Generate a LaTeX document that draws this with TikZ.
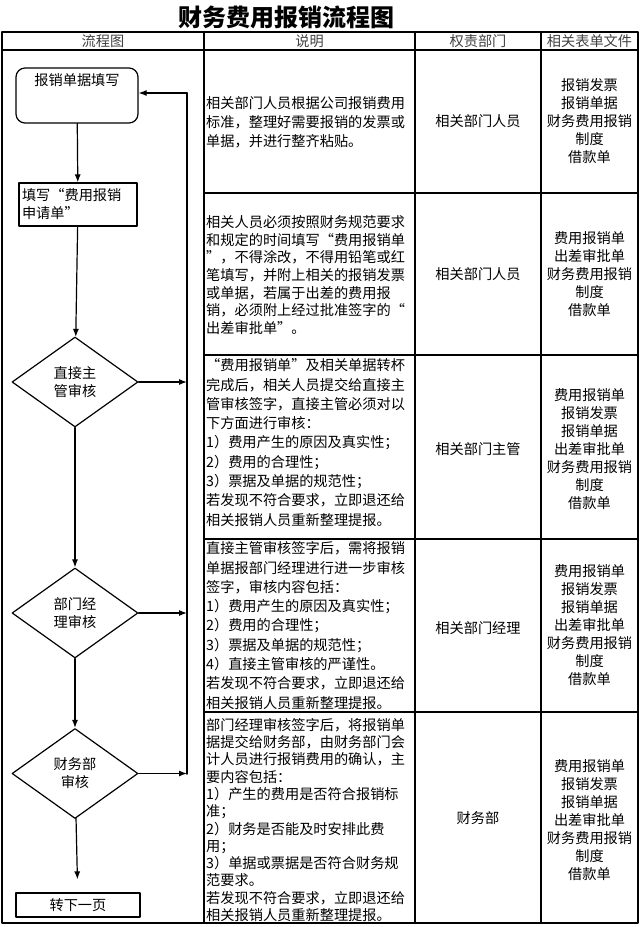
\documentclass[tikz,border=0pt]{standalone}
\usepackage{fontspec}
\setmainfont{Noto Sans CJK SC}
\usetikzlibrary{shapes.geometric,arrows.meta}

\begin{document}
\begin{tikzpicture}[x=1pt, y=-1pt, line cap=round, line join=round,
    grid/.style={line width=1.1pt},
    txt/.style={font=\fontsize{14.2}{18}\selectfont},
    head/.style={txt, text=black!75},
    box/.style={txt, draw, line width=1.2pt, inner sep=2pt},
    startbox/.style={box, rounded corners=9pt, minimum width=122pt, minimum height=55pt, align=center},
    formbox/.style={box, minimum width=118pt, minimum height=43pt, text width=112pt, align=left},
    nextbox/.style={box, minimum width=124pt, minimum height=24pt},
    check/.style={txt, draw, diamond, line width=1.2pt, minimum width=126pt, minimum height=90pt, inner sep=0pt, align=center},
    flow/.style={line width=1.2pt, -{Latex[length=8pt, width=6pt]}},
    back/.style={line width=1.8pt},
    desc/.style={anchor=west, align=left, inner sep=0pt, font=\fontsize{14.2}{#1}\selectfont},
    desc/.default=18,
    dept/.style={txt, align=center, inner sep=0pt},
    docs/.style={txt, align=center, inner sep=0pt}]
  \useasboundingbox (0,0) rectangle (640,927);
  % 标题
  \node[font=\fontsize{24}{28}\selectfont\bfseries] (title) at (286,17) {财务费用报销流程图};
  % 表格
  \draw[grid] (2,32) rectangle (638,923);
  \draw[grid] (2,50) -- (638,50);
  \draw[grid] (204,32) -- (204,923);
  \draw[grid] (415,32) -- (415,923);
  \draw[grid] (541,32) -- (541,923);
  \draw[grid] (204,193) -- (638,193);
  \draw[grid] (204,355) -- (638,355);
  \draw[grid] (204,539) -- (638,539);
  \draw[grid] (204,712) -- (638,712);
  \node[head] (hflow) at (103,41) {流程图};
  \node[head] (hdesc) at (309.5,41) {说明};
  \node[head] (hdept) at (478,41) {权责部门};
  \node[head] (hdocs) at (589.5,41) {相关表单文件};
  % 流程图
  \node[startbox] (fill) at (77,95.5) {报销单据填写\\[8pt]\strut};
  \node[formbox] (form) at (78,204.5) {填写“费用报销\\申请单”};
  \node[check] (chief) at (75,382) {直接主\\管审核};
  \node[check] (manager) at (75,613) {部门经\\理审核};
  \node[check] (finance) at (75,773.5) {财务部\\审核};
  \node[nextbox] (next) at (78,905) {转下一页};
  \coordinate (ret) at (187,93);
  \coordinate (retb) at (187,774);
  \draw[flow] (fill) -- (form);
  \draw[flow] (form) -- (chief);
  \draw[flow] (chief) -- (manager);
  \draw[flow] (manager) -- (finance);
  \draw[flow, shorten >=13pt] (finance) -- (next);
  \draw[flow] (chief.east) -- (chief.east -| ret);
  \draw[flow] (manager.east) -- (manager.east -| ret);
  \draw[flow] (finance.east) -- (finance.east -| ret);
  \draw[back] (retb) -- (ret);
  \draw[flow] (ret) -- (fill.east |- ret);
  % 说明
  \node[desc=19] (desc1) at (206,122) {相关部门人员根据公司报销费用\\标准，整理好需要报销的发票或\\单据，并进行整齐粘贴。};
  \node[desc=17.7] (desc2) at (206,275) {相关人员必须按照财务规范要求\\和规定的时间填写“费用报销单\\”，不得涂改，不得用铅笔或红\\笔填写，并附上相关的报销发票\\或单据，若属于出差的费用报\\销，必须附上经过批准签字的“\\出差审批单”。};
  \node[desc=19.3] (desc3) at (206,442.5) {“费用报销单”及相关单据转杯\\完成后，相关人员提交给直接主\\管审核签字，直接主管必须对以\\下方面进行审核：\\1）费用产生的原因及真实性；\\2）费用的合理性；\\3）票据及单据的规范性；\\若发现不符合要求，立即退还给\\相关报销人员重新整理提报。};
  \node[desc=19.3] (desc4) at (206,625.5) {直接主管审核签字后，需将报销\\单据报部门经理进行进一步审核\\签字，审核内容包括：\\1）费用产生的原因及真实性；\\2）费用的合理性；\\3）票据及单据的规范性；\\4）直接主管审核的严谨性。\\若发现不符合要求，立即退还给\\相关报销人员重新整理提报。};
  \node[desc=17.3] (desc5) at (206,820) {部门经理审核签字后，将报销单\\据提交给财务部，由财务部门会\\计人员进行报销费用的确认，主\\要内容包括：\\1）产生的费用是否符合报销标\\准；\\2）财务是否能及时安排此费\\用；\\3）单据或票据是否符合财务规\\范要求。\\若发现不符合要求，立即退还给\\相关报销人员重新整理提报。};
  % 权责部门
  \node[dept] (dept1) at (478,121.5) {相关部门人员};
  \node[dept] (dept2) at (478,274) {相关部门人员};
  \node[dept] (dept3) at (478,449) {相关部门主管};
  \node[dept] (dept4) at (478,628) {相关部门经理};
  \node[dept] (dept5) at (478,818) {财务部};
  % 相关表单文件
  \node[docs] (docs1) at (589.5,121.5) {报销发票\\报销单据\\财务费用报销\\制度\\借款单};
  \node[docs] (docs2) at (589.5,274) {费用报销单\\出差审批单\\财务费用报销\\制度\\借款单};
  \node[docs] (docs3) at (589.5,449) {费用报销单\\报销发票\\报销单据\\出差审批单\\财务费用报销\\制度\\借款单};
  \node[docs] (docs4) at (589.5,625.5) {费用报销单\\报销发票\\报销单据\\出差审批单\\财务费用报销\\制度\\借款单};
  \node[docs] (docs5) at (589.5,820) {费用报销单\\报销发票\\报销单据\\出差审批单\\财务费用报销\\制度\\借款单};
\end{tikzpicture}
\end{document}
